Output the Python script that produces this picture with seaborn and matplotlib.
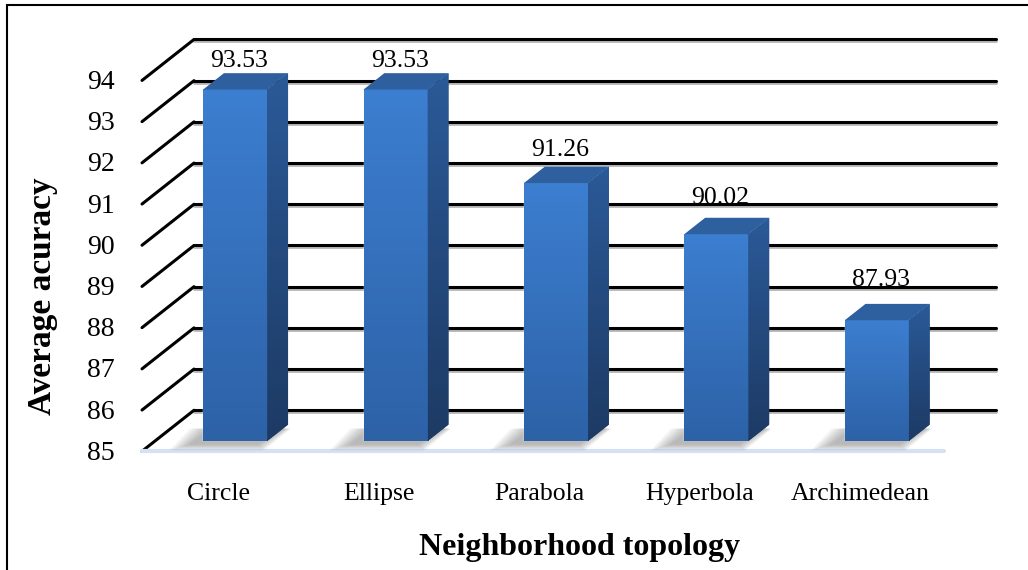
import numpy as np
import pandas as pd
import seaborn as sns
import matplotlib.pyplot as plt
from matplotlib.transforms import offset_copy, IdentityTransform
from matplotlib.patches import Polygon, Rectangle, ConnectionPatch
from matplotlib.colors import LinearSegmentedColormap

topologies = ['Circle', 'Ellipse', 'Parabola', 'Hyperbola', 'Archimedean']
accuracy = [93.53, 93.53, 91.26, 90.02, 87.93]
value_labels = ['93.53', '93.53', '91.26', '90.02', '87.93']
y_ticks = [85, 86, 87, 88, 89, 90, 91, 92, 93, 94]

# fake excel-style 3D, depth in pixels (saved at dpi=100)
DEPTH = (52, 41)      # front plane -> back wall
BAR_PLANE = 0.25      # bar fronts sit a quarter of the way in
BAR_DEPTH = 0.4       # bars are 40% of the depth

sns.set_style('white')
plt.rcParams['font.family'] = ['Liberation Serif', 'DejaVu Serif']
plt.rcParams['text.color'] = 'black'

fig = plt.figure(figsize=(10.28, 5.70), dpi=100)
ax = fig.add_axes([155 / 1028, 129 / 570, 802 / 1028, 412 / 570])

df = pd.DataFrame({'topology': topologies, 'accuracy': accuracy})
sns.barplot(data=df, x='topology', y='accuracy', width=0.4, color='#3574c4',
            saturation=1, ax=ax, zorder=3)
bars = list(ax.patches)

# gradient on the bar fronts
front_cmap = LinearSegmentedColormap.from_list('front', ['#2d62a7', '#3c7ed0'])
side_cmap = LinearSegmentedColormap.from_list('side', ['#1d3a64', '#2b5a98'])
grad = np.linspace(0, 1, 64).reshape(-1, 1)
for bar, val in zip(bars, accuracy):
    x0 = bar.get_x()
    ax.imshow(grad, extent=(x0, x0 + bar.get_width(), 85, val), origin='lower',
              aspect='auto', cmap=front_cmap, zorder=4)

ax.set_xlim(-0.5, 4.5)
ax.set_ylim(85, 95)
ax.axis('off')

pb = BAR_PLANE
front = offset_copy(ax.transData, x=-DEPTH[0] * pb, y=-DEPTH[1] * pb, units='dots')
back = offset_copy(ax.transData, x=DEPTH[0] * (1 - pb), y=DEPTH[1] * (1 - pb), units='dots')

# back wall gridlines + the diagonal ticks on the left wall
for v in y_ticks:
    ax.plot([-0.5, 4.5], [v, v], transform=offset_copy(back, y=-2, units='dots'),
            color='#b5b5b5', lw=2, clip_on=False, zorder=1)
    ax.plot([-0.5, 4.5], [v, v], transform=back, color='black', lw=2.2,
            clip_on=False, zorder=1.1)
    con = ConnectionPatch(xyA=(-0.5, v), coordsA=front, xyB=(-0.5, v), coordsB=back,
                          color='black', lw=2.2, clip_on=False, zorder=1.1)
    ax.add_artist(con)
    ax.text(-0.5, v, str(v), transform=offset_copy(front, x=-27, y=-2, units='dots'),
            ha='right', va='center', fontsize=20)

# floor front edge
ax.plot([-0.5, 4.5], [85, 85], transform=front, color='#d5e2f3', lw=3,
        clip_on=False, zorder=2)

inv = ax.transData.inverted()
dx, dy = DEPTH[0] * BAR_DEPTH, DEPTH[1] * BAR_DEPTH
top_val = max(accuracy)
for i, (bar, val) in enumerate(zip(bars, accuracy)):
    x0 = bar.get_x()
    x1 = x0 + bar.get_width()
    (px0, py0), (px1, py1) = ax.transData.transform([(x0, 85), (x1, val)])

    # soft shadow on the floor
    for g in range(9):
        s = 2 + g * 2.5
        shadow = Polygon([(px0 - 12 - s, py0 - 3 - s * 0.3), (px1 - 10 + s * 0.3, py0 - 3 - s * 0.3),
                          (px1 + dx - 4 + s * 0.3, py0 + dy - 4), (px0 + dx - 12 - s, py0 + dy - 4)],
                         transform=IdentityTransform(), color='#606060', alpha=0.06,
                         lw=0, zorder=2.5, clip_on=False)
        ax.add_patch(shadow)

    top = Polygon([(px0, py1), (px1, py1), (px1 + dx, py1 + dy), (px0 + dx, py1 + dy)],
                  transform=IdentityTransform(), facecolor='#2e5f9f', edgecolor='none',
                  zorder=5, clip_on=False)
    ax.add_patch(top)
    side = Polygon([(px1, py0), (px1, py1), (px1 + dx, py1 + dy), (px1 + dx, py0 + dy)],
                   transform=IdentityTransform(), facecolor='#26508a', edgecolor='none',
                   zorder=5, clip_on=False)
    ax.add_patch(side)
    (ex0, ey0) = inv.transform((px1, py0))
    (ex1, ey1) = inv.transform((px1 + dx, py1 + dy))
    im = ax.imshow(grad, extent=(ex0, ex1, ey0, ey1), origin='lower', aspect='auto',
                   cmap=side_cmap, zorder=5.5)
    im.set_clip_path(side)

    # excel's perspective lifts the labels of the shorter bars a little more
    lift = 23 + (top_val - val) * 2
    ax.text(i, val, value_labels[i],
            transform=offset_copy(ax.transData, x=4, y=lift, units='dots'),
            ha='center', va='baseline', fontsize=18.5, zorder=6)
    ax.text(i, 85, topologies[i], transform=offset_copy(front, x=-4, y=-43, units='dots'),
            ha='center', va='center', fontsize=18.5)

ax.set_xlim(-0.5, 4.5)
ax.set_ylim(85, 95)

fig.text(43 / 1028, 1 - 296 / 570, 'Average acuracy', rotation=90, fontsize=24,
         fontweight='bold', ha='center', va='center')
fig.text(580 / 1028, 1 - 548 / 570, 'Neighborhood topology', fontsize=23,
         fontweight='bold', ha='center', va='center')

# chart border
fig.add_artist(Rectangle((7 / 1028, -0.1), 1.2, 1 - 5 / 570 + 0.1, transform=fig.transFigure,
                         fill=False, edgecolor='black', lw=1.5))

fig.savefig('out.png', dpi=100)
